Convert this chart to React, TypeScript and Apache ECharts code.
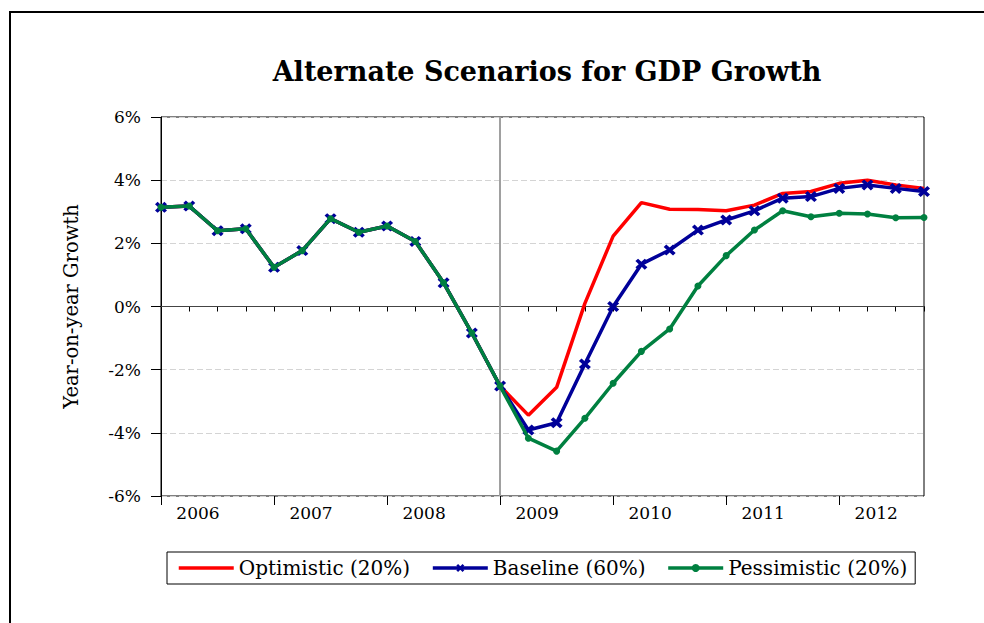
import React, { useEffect, useRef } from "react";
import * as echarts from "echarts";

const years = ["2006", "2007", "2008", "2009", "2010", "2011", "2012"];
const quarterCount = 28;
const yTicks = { min: -6, max: 6, step: 2 };

const optimistic = [3.14, 3.18, 2.4, 2.46, 1.24, 1.77, 2.78, 2.35, 2.55, 2.06, 0.75, -0.84, -2.52,
  -3.44, -2.56, 0.1, 2.23, 3.29, 3.08, 3.07, 3.03, 3.21, 3.58, 3.64, 3.9, 4.0, 3.85, 3.74];
const baseline = [3.14, 3.18, 2.4, 2.46, 1.24, 1.77, 2.78, 2.35, 2.55, 2.06, 0.75, -0.84, -2.52,
  -3.91, -3.68, -1.82, 0.0, 1.34, 1.79, 2.42, 2.74, 3.03, 3.43, 3.48, 3.74, 3.85, 3.74, 3.64];
const pessimistic = [3.14, 3.18, 2.4, 2.46, 1.24, 1.77, 2.78, 2.35, 2.55, 2.06, 0.75, -0.84, -2.52,
  -4.17, -4.58, -3.54, -2.43, -1.42, -0.71, 0.65, 1.61, 2.42, 3.03, 2.84, 2.95, 2.93, 2.81, 2.82];
const forecastStartIndex = 12;

const FONT = "DejaVu Serif";
const X_PATH =
  "path://M0,2.2L2.2,0L5,2.8L7.8,0L10,2.2L7.2,5L10,7.8L7.8,10L5,7.2L2.2,10L0,7.8L2.8,5Z";

const toPairs = (arr: number[]) => arr.map((v, i) => [i, v]);

export default function App() {
  const ref = useRef<HTMLDivElement>(null);
  useEffect(() => {
    if (!ref.current) return;
    const chart = echarts.init(ref.current, null, { renderer: "svg" });
    chart.setOption({
      animation: false,
      backgroundColor: "#fff",
      textStyle: { fontFamily: FONT, color: "#000" },
      title: {
        text: "Alternate Scenarios for GDP Growth",
        left: 542,
        top: 53,
        textAlign: "center",
        textStyle: { fontFamily: FONT, fontWeight: "bold", fontSize: 27, color: "#000" },
      },
      graphic: [
        {
          type: "rect",
          shape: { x: 10, y: 12, width: 1000, height: 700 },
          style: { fill: "none", stroke: "#000", lineWidth: 2 },
          silent: true,
        },
      ],
      legend: {
        left: 167,
        top: 552,
        orient: "horizontal",
        borderColor: "#000",
        borderWidth: 1,
        padding: [6, 8, 6, 10],
        itemWidth: 55,
        itemHeight: 10,
        itemGap: 21,
        lineStyle: { width: 3.5 },
        textStyle: { fontFamily: FONT, fontSize: 20, color: "#000" },
        data: [
          { name: "Optimistic (20%)", itemStyle: { opacity: 0 } },
          { name: "Baseline (60%)" },
          { name: "Pessimistic (20%)" },
        ],
      },
      grid: {
        left: 161,
        right: 60,
        top: 117,
        bottom: 127,
        show: true,
        borderColor: "#000",
        borderWidth: 1,
        backgroundColor: "transparent",
      },
      xAxis: [
        {
          type: "value",
          min: 0,
          max: quarterCount - 1,
          interval: 1,
          position: "bottom",
          axisLine: { show: true, lineStyle: { color: "#000", width: 1 } },
          axisTick: { show: true, length: 5, lineStyle: { color: "#000" } },
          axisLabel: { show: false },
          splitLine: { show: false },
        },
        {
          type: "value",
          min: 0,
          max: quarterCount - 1,
          interval: 4,
          position: "bottom",
          axisLine: { show: false },
          axisTick: { show: true, length: 9, lineStyle: { color: "#000" } },
          axisLabel: {
            show: true,
            margin: 8,
            showMaxLabel: false,
            fontFamily: FONT,
            fontSize: 17,
            color: "#000",
            formatter: (v: number) => {
              const idx = Math.round(v / 4);
              return v % 4 === 0 && idx < years.length ? "{y|" + years[idx] + "}" : "";
            },
            rich: { y: { fontFamily: FONT, fontSize: 17, color: "#000", padding: [0, 0, 0, 74] } },
          },
          splitLine: { show: false },
        },
      ],
      yAxis: {
        type: "value",
        min: yTicks.min,
        max: yTicks.max,
        interval: yTicks.step,
        name: "Year-on-year Growth",
        nameLocation: "middle",
        nameGap: 80,
        nameTextStyle: { fontFamily: FONT, fontSize: 19.5, color: "#000" },
        axisLine: { show: true, lineStyle: { color: "#000", width: 1 } },
        axisTick: { show: true, length: 10, lineStyle: { color: "#000" } },
        axisLabel: {
          fontFamily: FONT,
          fontSize: 17,
          color: "#000",
          margin: 20,
          formatter: (v: number) => v + "%",
        },
        splitLine: { show: true, lineStyle: { color: "#d4d4d4", type: [6, 3], width: 1 } },
      },
      series: [
        {
          name: "Optimistic (20%)",
          type: "line",
          data: toPairs(optimistic),
          symbol: "none",
          lineStyle: { color: "#ff0000", width: 3.5 },
          itemStyle: { color: "#ff0000" },
          z: 2,
          markLine: {
            silent: true,
            symbol: "none",
            label: { show: false },
            data: [
              { yAxis: 0, lineStyle: { color: "#444", width: 1, type: "solid" } },
              { xAxis: forecastStartIndex, lineStyle: { color: "#a0a0a0", width: 2, type: "solid" } },
            ],
            z: 1,
          },
        },
        {
          name: "Baseline (60%)",
          type: "line",
          data: toPairs(baseline),
          symbol: X_PATH,
          symbolSize: [12, 11],
          showSymbol: true,
          lineStyle: { color: "#000099", width: 3.5 },
          itemStyle: { color: "#000099" },
          z: 3,
        },
        {
          name: "Pessimistic (20%)",
          type: "line",
          data: toPairs(pessimistic),
          symbol: "circle",
          symbolSize: 7,
          showSymbol: true,
          lineStyle: { color: "#008040", width: 3.5 },
          itemStyle: { color: "#008040" },
          z: 4,
        },
      ],
    });
    return () => chart.dispose();
  }, []);
  return (
    <div
      ref={ref}
      style={{ position: "fixed", left: 0, top: 0, width: 984, height: 623, background: "#fff" }}
    />
  );
}
